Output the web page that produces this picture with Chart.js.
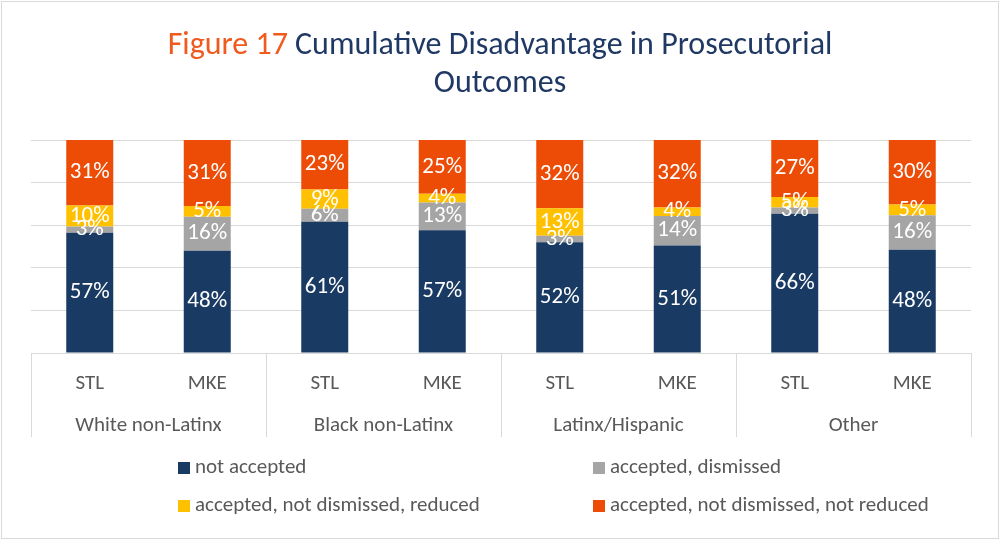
<!DOCTYPE html>
<html>
<head>
<meta charset="utf-8">
<script src="https://cdn.jsdelivr.net/npm/chart.js@4.4.1/dist/chart.umd.min.js"></script>
<style>
  body { margin: 0; background: #fff; }
  #wrap { width: 1000px; height: 540px; position: relative; }
</style>
</head>
<body>
<div id="wrap"><canvas id="chart" width="1000" height="540"></canvas></div>
<script>
// chart data
const categories = ['STL', 'MKE', 'STL', 'MKE', 'STL', 'MKE', 'STL', 'MKE'];
const groups = ['White non-Latinx', 'Black non-Latinx', 'Latinx/Hispanic', 'Other'];
const seriesNames = ['not accepted', 'accepted, dismissed', 'accepted, not dismissed, reduced', 'accepted, not dismissed, not reduced'];
const notAccepted = [57, 48, 61, 57, 52, 51, 66, 48];
const acceptedDismissed = [3, 16, 6, 13, 3, 14, 3, 16];
const notDismissedReduced = [10, 5, 9, 4, 13, 4, 5, 5];
const notDismissedNotReduced = [31, 31, 23, 25, 32, 32, 27, 30];
const yTicks = [0, 20, 40, 60, 80, 100];

const colors = ['#193a63', '#a5a5a5', '#ffc000', '#ec4c06'];
const FONT = 'Carlito, Lato, "Open Sans", sans-serif';

const series = [notAccepted, acceptedDismissed, notDismissedReduced, notDismissedNotReduced];
// 100% stacked: each bar is scaled to its own total
const totals = categories.map((c, i) => series.reduce((acc, s) => acc + s[i], 0));

const datasets = series.map((s, k) => ({
    label: seriesNames[k],
    raw: s,
    data: s.map((v, i) => v / totals[i] * 100),
    backgroundColor: colors[k],
    borderWidth: 0,
    barPercentage: 0.4,
    categoryPercentage: 1
}));

const titlePlugin = {
    id: 'titlePlugin',
    afterDraw(chart) {
        const ctx = chart.ctx;
        ctx.save();
        // light frame around the whole chart
        ctx.strokeStyle = '#d9d9d9';
        ctx.lineWidth = 1;
        ctx.strokeRect(1.5, 1.5, 997, 537);

        const part1 = 'Figure 17 ';
        const part2 = 'Cumulative Disadvantage in Prosecutorial';
        ctx.font = '26px ' + FONT;
        const w26 = ctx.measureText(part1 + part2).width;
        const size = 26 * 665 / w26;
        ctx.font = size + 'px ' + FONT;
        const w1 = ctx.measureText(part1).width;
        const w2 = ctx.measureText(part2).width;
        const x0 = 500 - (w1 + w2) / 2;
        ctx.textBaseline = 'middle';
        ctx.textAlign = 'left';
        ctx.fillStyle = '#f05a1e';
        ctx.fillText(part1, x0, 46);
        ctx.fillStyle = '#1f3864';
        ctx.fillText(part2, x0 + w1, 46);
        ctx.textAlign = 'center';
        ctx.fillText('Outcomes', 500, 84);
        ctx.restore();
    }
};

const labelsPlugin = {
    id: 'labelsPlugin',
    afterDatasetsDraw(chart) {
        const ctx = chart.ctx;
        ctx.save();
        ctx.font = '23px ' + FONT;
        ctx.fillStyle = '#ffffff';
        ctx.textAlign = 'center';
        ctx.textBaseline = 'middle';
        chart.data.datasets.forEach((ds, k) => {
            chart.getDatasetMeta(k).data.forEach((bar, i) => {
                ctx.fillText(ds.raw[i] + '%', bar.x, (bar.y + bar.base) / 2);
            });
        });
        ctx.restore();
    }
};

const axisBoxPlugin = {
    id: 'axisBoxPlugin',
    afterDraw(chart) {
        const ctx = chart.ctx;
        const x = chart.scales.x;
        const x2 = chart.scales.x2;
        const area = chart.chartArea;
        ctx.save();
        ctx.strokeStyle = '#d9d9d9';
        ctx.lineWidth = 1;
        const edges = [area.left];
        for (let g = 1; g < groups.length; g++) {
            edges.push((x.getPixelForValue(2 * g - 1) + x.getPixelForValue(2 * g)) / 2);
        }
        edges.push(area.right);
        edges.forEach(px => {
            const p = Math.round(px) + 0.5;
            ctx.beginPath();
            ctx.moveTo(p, area.bottom);
            ctx.lineTo(p, x2.bottom);
            ctx.stroke();
        });
        ctx.restore();
    }
};

const legendPlugin = {
    id: 'legendPlugin',
    afterDraw(chart) {
        const ctx = chart.ctx;
        const spots = [[178, 468], [593, 468], [178, 506], [593, 506]];
        ctx.save();
        ctx.font = '21px ' + FONT;
        ctx.textBaseline = 'middle';
        ctx.textAlign = 'left';
        chart.data.datasets.forEach((ds, k) => {
            const [lx, ly] = spots[k];
            ctx.fillStyle = ds.backgroundColor;
            ctx.fillRect(lx, ly - 6, 12, 12);
            ctx.fillStyle = '#595959';
            ctx.fillText(ds.label, lx + 17, ly);
        });
        ctx.restore();
    }
};

new Chart(document.getElementById('chart'), {
    type: 'bar',
    data: { labels: categories, datasets: datasets },
    options: {
        responsive: false,
        animation: false,
        layout: { padding: { top: 140, left: 31, right: 29, bottom: 103 } },
        plugins: {
            legend: { display: false },
            title: { display: false },
            tooltip: { enabled: false }
        },
        scales: {
            x: {
                stacked: true,
                weight: 0,
                grid: { display: false },
                border: { display: false },
                ticks: {
                    color: '#595959',
                    font: { family: FONT, size: 21 },
                    padding: 10,
                    maxRotation: 0,
                    autoSkip: false
                },
                afterFit(scale) { scale.height = 42; }
            },
            x2: {
                type: 'category',
                labels: groups,
                position: 'bottom',
                offset: true,
                weight: 1,
                grid: { display: false },
                border: { display: false },
                ticks: {
                    color: '#595959',
                    font: { family: FONT, size: 21 },
                    padding: 10,
                    maxRotation: 0,
                    autoSkip: false
                },
                afterFit(scale) { scale.height = 42; }
            },
            y: {
                stacked: true,
                min: 0,
                max: 100,
                afterBuildTicks(scale) { scale.ticks = yTicks.map(v => ({ value: v })); },
                grid: { color: '#d9d9d9', drawTicks: false },
                border: { display: false },
                ticks: { display: false },
                afterFit(scale) { scale.width = 0; }
            }
        }
    },
    plugins: [titlePlugin, labelsPlugin, axisBoxPlugin, legendPlugin]
});
</script>
</body>
</html>
